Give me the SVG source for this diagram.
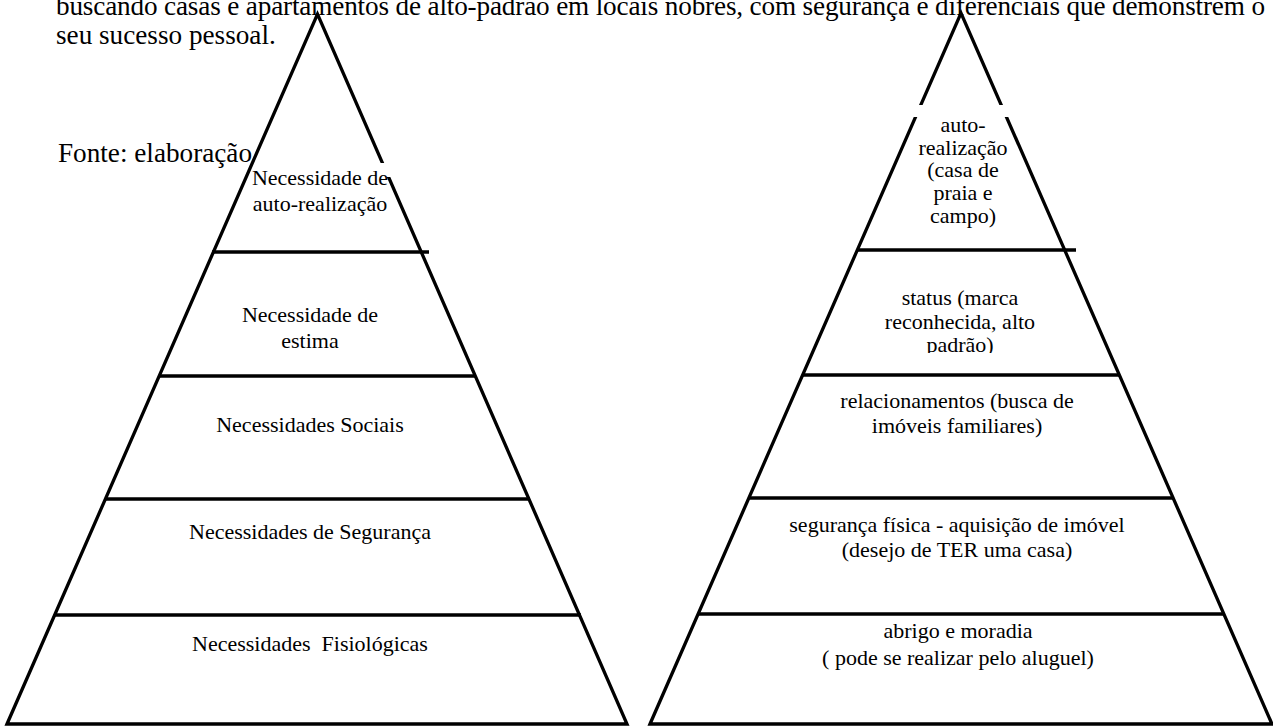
<svg xmlns="http://www.w3.org/2000/svg" width="1273" height="726" viewBox="0 0 1273 726">
<defs>
<style>
.ln{stroke:#000;stroke-width:3.3;fill:none}
.t{font-family:"Liberation Serif","Times New Roman",serif;fill:#000}
.p{font-size:27.2px}
.lb{font-size:22px;text-anchor:middle}
</style>
<clipPath id="clipStatus"><rect x="800" y="260" width="320" height="93"/></clipPath>
</defs>
<rect width="1273" height="726" fill="#fff"/>
<g id="paragraph">
<text class="t p" x="56" y="15" textLength="1209" lengthAdjust="spacing">buscando casas e apartamentos de alto-padrão em locais nobres, com segurança e diferenciais que demonstrem o</text>
<text class="t p" x="56" y="44">seu sucesso pessoal.</text>
</g>
<g id="connectors">
<g id="left-pyramid-lines">
<path class="ln" d="M7,724 L317.5,14 L627,724 Z"/>
<line class="ln" x1="212" y1="252" x2="429" y2="252"/>
<line class="ln" x1="159" y1="376" x2="476" y2="376"/>
<line class="ln" x1="105" y1="499" x2="530" y2="499"/>
<line class="ln" x1="55" y1="615" x2="581" y2="615"/>
</g>
<g id="right-pyramid-lines">
<path class="ln" d="M650,724 L961,13 L1272,724 Z"/>
<line class="ln" x1="857" y1="250" x2="1076" y2="250"/>
<line class="ln" x1="803" y1="375" x2="1120" y2="375"/>
<line class="ln" x1="749" y1="498" x2="1173" y2="498"/>
<line class="ln" x1="698" y1="614" x2="1224" y2="614"/>
</g>
</g>
<g id="masks">
<rect x="370" y="163" width="22" height="14" fill="#fff"/>
<rect x="912" y="105" width="101" height="12" fill="#fff"/>
</g>
<g id="fonte"><text class="t p" x="58" y="162">Fonte: elaboração</text></g>
<g id="L5"><text class="t lb" x="320" y="185">Necessidade de</text><text class="t lb" x="320" y="211">auto-realização</text></g>
<g id="L4"><text class="t lb" x="310" y="322">Necessidade de</text><text class="t lb" x="310" y="348">estima</text></g>
<g id="L3"><text class="t lb" x="310" y="432">Necessidades Sociais</text></g>
<g id="L2"><text class="t lb" x="310" y="539">Necessidades de Segurança</text></g>
<g id="L1"><text class="t lb" x="310" y="651" xml:space="preserve">Necessidades  Fisiológicas</text></g>
<g id="R5"><text class="t lb" x="963" y="132">auto-</text><text class="t lb" x="963" y="155">realização</text><text class="t lb" x="963" y="177">(casa de</text><text class="t lb" x="963" y="200">praia e</text><text class="t lb" x="963" y="223">campo)</text></g>
<g id="R4" clip-path="url(#clipStatus)"><text class="t lb" x="960" y="305">status (marca</text><text class="t lb" x="960" y="329">reconhecida, alto</text><text class="t lb" x="960" y="352">padrão)</text></g>
<g id="R3"><text class="t lb" x="957" y="408">relacionamentos (busca de</text><text class="t lb" x="957" y="433">imóveis familiares)</text></g>
<g id="R2"><text class="t lb" x="957" y="532">segurança física - aquisição de imóvel</text><text class="t lb" x="957" y="557">(desejo de TER uma casa)</text></g>
<g id="R1"><text class="t lb" x="958" y="638">abrigo e moradia</text><text class="t lb" x="958" y="665">( pode se realizar pelo aluguel)</text></g>
</svg>
